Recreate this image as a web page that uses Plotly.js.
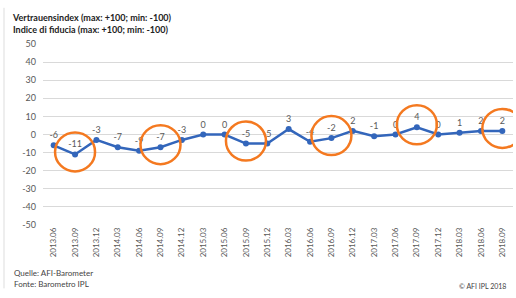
<!DOCTYPE html>
<html>
<head>
<meta charset="utf-8">
<script src="https://cdn.plot.ly/plotly-3.0.1.min.js"></script>
<style>html,body{margin:0;padding:0;background:#fff;}#chart{width:516px;height:298px;}</style>
</head>
<body>
<div id="chart"></div>
<script>
var categories = ['2013.06','2013.09','2013.12','2014.03','2014.06','2014.09','2014.12','2015.03','2015.06','2015.09','2015.12','2016.03','2016.06','2016.09','2016.12','2017.03','2017.06','2017.09','2017.12','2018.03','2018.06','2018.09'];
var values = [-6,-11,-3,-7,-9,-7,-3,0,0,-5,-5,3,-4,-2,2,-1,0,4,0,1,2,2];
var highlighted = ['2013.09','2014.09','2015.09','2016.09','2017.09','2018.09'];
var yTicks = [50,40,30,20,10,0,-10,-20,-30,-40,-50];

var trace = {
  x: categories, y: values, type: 'scatter', mode: 'lines+markers+text',
  text: values.map(String), textposition: 'top center',
  textfont: {family: 'Lato, "Liberation Sans", sans-serif', size: 9, color: '#595959'},
  line: {color: '#3366BB', width: 2.5},
  marker: {color: '#3366BB', size: 6},
  cliponaxis: false, hoverinfo: 'skip'
};

var shapes = highlighted.map(function(c){
  var i = categories.indexOf(c);
  return {type: 'circle', xref: 'x', yref: 'y', xsizemode: 'pixel', ysizemode: 'pixel',
    xanchor: i, yanchor: values[i], x0: -20, x1: 20, y0: -17, y1: 22,
    line: {color: '#F47920', width: 2.5}, layer: 'above'};
});
shapes.push({type: 'line', xref: 'paper', yref: 'paper', x0: -39/470, x1: -39/470, y0: -0.35, y1: 1.2,
  line: {color: '#dddddd', width: 1}});

var layout = {
  width: 516, height: 298,
  margin: {l: 43, r: 3, t: 44, b: 73},
  paper_bgcolor: '#ffffff', plot_bgcolor: '#ffffff',
  showlegend: false,
  font: {family: 'Lato, "Liberation Sans", sans-serif', color: '#595959'},
  title: {text: 'Vertrauensindex (max: +100; min: -100)<br>Indice di fiducia (max: +100; min: -100)',
    xref: 'container', yref: 'container', x: 13/516, xanchor: 'left', y: 1 - 21/298, yanchor: 'middle',
    font: {family: 'Lato, "Liberation Sans", sans-serif', size: 9, color: '#222222', weight: 'bold'}},
  xaxis: {type: 'category', categoryorder: 'array', categoryarray: categories,
    range: [-0.5, categories.length - 0.5], tickangle: -90, tickfont: {size: 8, color: '#595959'},
    showgrid: false, zeroline: false, showline: false, ticks: '', fixedrange: true, automargin: false},
  yaxis: {range: [-50, 50], tickvals: yTicks, ticktext: yTicks.map(String),
    tickfont: {size: 9, color: '#595959'}, gridcolor: '#d9d9d9', gridwidth: 1,
    zeroline: false, showline: false, ticks: '', ticklabelstandoff: 6, fixedrange: true, automargin: false},
  shapes: shapes,
  annotations: [
    {text: 'Quelle: AFI-Barometer', xref: 'paper', yref: 'paper', x: -31/470, y: -48/181, xanchor: 'left', yanchor: 'middle', showarrow: false, font: {size: 8, color: '#444444'}},
    {text: 'Fonte: Barometro IPL', xref: 'paper', yref: 'paper', x: -31/470, y: -59/181, xanchor: 'left', yanchor: 'middle', showarrow: false, font: {size: 8, color: '#444444'}},
    {text: '© AFI IPL 2018', xref: 'paper', yref: 'paper', x: 1 - 5/470, y: -61/181, xanchor: 'right', yanchor: 'middle', showarrow: false, font: {size: 7, color: '#444444'}}
  ]
};

Plotly.newPlot('chart', [trace], layout, {displayModeBar: false, staticPlot: true});
</script>
</body>
</html>
